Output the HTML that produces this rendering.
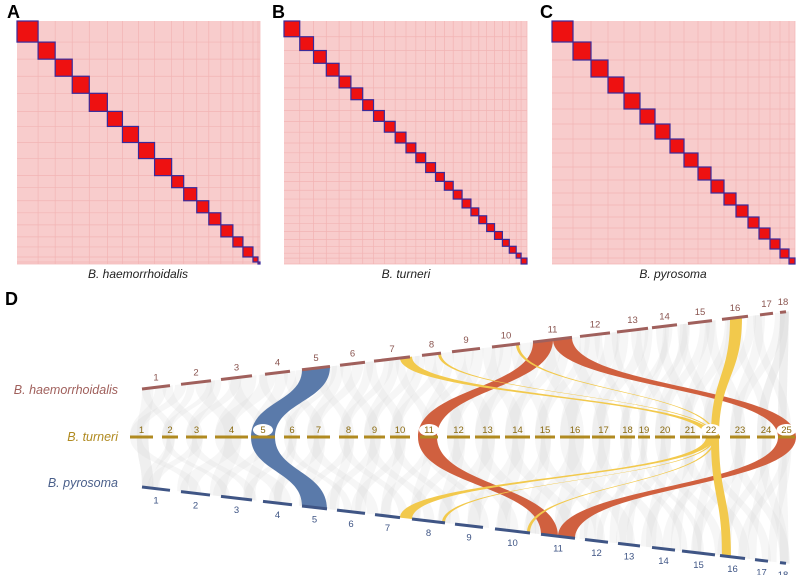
<!DOCTYPE html>
<html><head><meta charset="utf-8"><style>
html,body{margin:0;padding:0;background:#fff}
svg{display:block;font-family:"Liberation Sans",sans-serif}
</style></head><body>
<svg id="fig" width="800" height="575" viewBox="0 0 800 575">
<g id="heat"></g><g id="grey"></g><g id="hl"></g><g id="tracks"></g>
<text x="7" y="18" font-size="18" font-weight="bold">A</text>
<text x="272" y="18" font-size="18" font-weight="bold">B</text>
<text x="540" y="18" font-size="18" font-weight="bold">C</text>
<text x="5" y="305" font-size="18" font-weight="bold">D</text>
<text x="138" y="278" font-size="12" font-style="italic" text-anchor="middle" fill="#222">B. haemorrhoidalis</text>
<text x="406" y="278" font-size="12" font-style="italic" text-anchor="middle" fill="#222">B. turneri</text>
<text x="673" y="278" font-size="12" font-style="italic" text-anchor="middle" fill="#222">B. pyrosoma</text>
<text x="118" y="394" font-size="12.5" font-style="italic" text-anchor="end" fill="#a0605c">B. haemorrhoidalis</text>
<text x="118" y="441" font-size="12.5" font-style="italic" text-anchor="end" fill="#b08a20">B. turneri</text>
<text x="118" y="487" font-size="12.5" font-style="italic" text-anchor="end" fill="#4a5f8a">B. pyrosoma</text>
</svg>
<script>
const NS="http://www.w3.org/2000/svg";
// Hi-C block sizes (relative) per heatmap
const blocksA=[21,17,17,17,18,15,16,16,17,12,13,12,12,12,10,10,5,2];
const blocksB=[16,14,13,13,12,12,11,11,11,11,10,10,10,9,9,9,9,8,8,8,8,7,7,5,6];
const blocksC=[21,18,17,16,16,15,15,14,14,13,13,12,12,11,11,10,9,6];
const heatX=[17,284,552];
// chromosome segments [start,end] in x
const haemSegs=[[142,170],[181,211],[221,252],[265,290],[302,330],[340,365],[374,410],[422,441],[452,480],[492,520],[533,572],[580,610],[617,648],[652,677],[688,712],[722,748],[760,773],[780,786]];
const turSegs=[[130,153],[162,178],[186,207],[215,248],[251,275],[284,300],[307,330],[339,358],[364,385],[390,410],[420,438],[447,470],[475,500],[505,530],[535,555],[560,590],[592,615],[620,635],[638,650],[655,675],[680,700],[702,720],[730,750],[757,775],[778,795]];
const pyroSegs=[[142,170],[181,210],[221,252],[263,292],[302,327],[337,365],[375,400],[412,445],[455,483],[495,530],[541,575],[585,608],[618,640],[652,675],[682,715],[720,745],[755,768],[780,786]];
// highlighted ribbons: [haem x1,x2, tur x1,x2, pyro x1,x2, color]
const ribbons=[[302,330,251,275,302,327,"#5a7aaa"],[533,553,418,437,541,558,"#d0603f"],[553,572,778,796,558,575,"#d0603f"],[730,742,711,719,722,731,"#f2c94c"],[400,412,706,714,400,412,"#f2c94c"],[438,441,713,715,442,445,"#f2c94c"],[516,519,714,716,527,530,"#f2c94c"]];
function hY(x){return 389-(x-142)*0.12}
function pY(x){return 487+(x-142)*0.1185}
const TY=437;
function el(tag,attrs,parent){const e=document.createElementNS(NS,tag);for(const k in attrs)e.setAttribute(k,attrs[k]);parent.appendChild(e);return e}
const heat=document.getElementById('heat');
[blocksA,blocksB,blocksC].forEach((bl,hi)=>{
  const x0=heatX[hi],y0=21,size=243;
  const r=el('rect',{x:x0,y:y0,width:size,height:size,fill:'#f8cccc'},heat);
  
  
  const tot=bl.reduce((a,b)=>a+b,0), sc=size/tot;
  let p=0;
  bl.forEach(s=>{p+=s;
    el('line',{x1:x0+p*sc,y1:y0,x2:x0+p*sc,y2:y0+size,stroke:'#f2b4b4','stroke-width':0.7},heat);
    el('line',{x1:x0,y1:y0+p*sc,x2:x0+size,y2:y0+p*sc,stroke:'#f2b4b4','stroke-width':0.7},heat);
  });
  p=0;
  bl.forEach((s,i)=>{
    const b=el('rect',{x:x0+p*sc,y:y0+p*sc,width:s*sc,height:s*sc,fill:'#ee1111',stroke:'#3a2a9a','stroke-width':1.2},heat);
    
    
    p+=s;});
});
function ribbon(a1,a2,ya1,ya2,b1,b2,yb){const m=(Math.min(ya1,ya2)+yb)/2;
  return `M${a1},${ya1} C${a1},${m} ${b1},${m} ${b1},${yb} L${b2},${yb} C${b2},${m} ${a2},${m} ${a2},${ya2} Z`}
const grey=document.getElementById('grey');
turSegs.forEach((t,j)=>{
  const shifts=[25,-30,45,-15,60,-45];
  shifts.forEach((sh,k)=>{
    const w=(t[1]-t[0])/2, tx=t[0]+(k%2)*w*0.6;
    let hx=Math.min(Math.max(tx+sh,142),780);
    const hp=k<3;
    const ya=hp?hY(hx):pY(hx), yb=hp?hY(hx+w):pY(hx+w);
    const g=el('path',{d:ribbon(hx,hx+w,ya,yb,tx,tx+w,TY),fill:'#d4d4d4','fill-opacity':0.22},grey);
    
    
  });
});
const hl=document.getElementById('hl');
ribbons.forEach(r=>{
  const [h1,h2,t1,t2,p1,p2,c]=r;
  const a=el('path',{d:ribbon(h1,h2,hY(h1),hY(h2),t1,t2,TY),fill:c},hl);
  
  
  const b=el('path',{d:ribbon(p1,p2,pY(p1),pY(p2),t1,t2,TY),fill:c},hl);
  
  
});
const tr=document.getElementById('tracks');
haemSegs.forEach((s,i)=>{
  const l=el('line',{x1:s[0],y1:hY(s[0]),x2:s[1],y2:hY(s[1]),stroke:'#a0605c','stroke-width':3},tr);
  
  
  const m=(s[0]+s[1])/2;
  const t=el('text',{x:m,y:hY(m)-7,'font-size':9.5,'text-anchor':'middle',fill:'#8a5550'},tr);t.textContent=i+1;
  
  
});
const bubbles=[5,11,22,25];
turSegs.forEach((s,i)=>{
  const m=(s[0]+s[1])/2;
  if(bubbles.includes(i+1)){const e=el('ellipse',{cx:m,cy:TY-7,rx:10,ry:6,fill:'#fff'},tr);
    
    }
  const l=el('line',{x1:s[0],y1:TY,x2:s[1],y2:TY,stroke:'#b08a20','stroke-width':3},tr);
  
  
  const t=el('text',{x:m,y:TY-4,'font-size':9.5,'text-anchor':'middle',fill:'#8a6a10'},tr);t.textContent=i+1;
  
  
});
pyroSegs.forEach((s,i)=>{
  const l=el('line',{x1:s[0],y1:pY(s[0]),x2:s[1],y2:pY(s[1]),stroke:'#3f5585','stroke-width':3},tr);
  
  
  const m=(s[0]+s[1])/2;
  const t=el('text',{x:m,y:pY(m)+15,'font-size':9.5,'text-anchor':'middle',fill:'#3f5585'},tr);t.textContent=i+1;
  
  
});
</script>
</body></html>
